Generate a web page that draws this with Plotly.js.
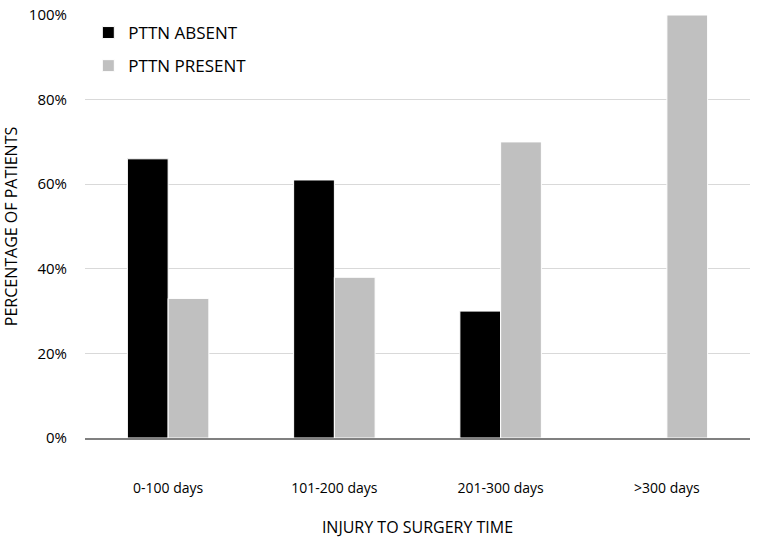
<!DOCTYPE html>
<html>
<head>
<meta charset="utf-8">
<script src="https://cdn.plot.ly/plotly-3.0.1.min.js"></script>
<style>
  body { margin: 0; background: #fff; }
  #chart { width: 765px; height: 545px; }
</style>
</head>
<body>
<div id="chart"></div>
<script>
const categories = ['0-100 days', '101-200 days', '201-300 days', '>300 days'];
const absentPct = [66, 61, 30, 0];
const presentPct = [33, 38, 70, 100];
const yTicks = [0, 20, 40, 60, 80, 100];

const font = 'Open Sans, Liberation Sans, sans-serif';

const data = [
  {
    x: categories,
    y: absentPct,
    name: 'PTTN ABSENT',
    legendgroup: 'a',
    type: 'bar',
    marker: { color: '#000000', line: { color: '#ffffff', width: 1 } },
    hoverinfo: 'skip'
  },
  {
    x: categories,
    y: presentPct,
    name: 'PTTN PRESENT',
    legendgroup: 'b',
    type: 'bar',
    marker: { color: '#c0c0c0', line: { color: '#ffffff', width: 1 } },
    hoverinfo: 'skip'
  }
];

const layout = {
  width: 765,
  height: 545,
  barmode: 'group',
  bargap: 0.51,
  bargroupgap: 0,
  paper_bgcolor: '#ffffff',
  plot_bgcolor: '#ffffff',
  font: { family: font, size: 15, color: '#000000' },
  margin: { l: 85, r: 15, t: 15, b: 107 },
  showlegend: true,
  legend: {
    x: 0.005, y: 1.0, xanchor: 'left', yanchor: 'top',
    font: { family: font, size: 17, color: '#000' },
    bgcolor: 'rgba(0,0,0,0)',
    itemwidth: 30,
    traceorder: 'grouped',
    tracegroupgap: 8
  },
  xaxis: {
    type: 'category',
    showgrid: false,
    showline: true,
    linecolor: '#808080',
    linewidth: 2,
    ticks: 'outside',
    ticklen: 36,
    tickcolor: 'rgba(0,0,0,0)',
    tickfont: { family: font, size: 14 },
    title: { text: 'INJURY TO SURGERY TIME', font: { family: font, size: 16 }, standoff: 26 },
    fixedrange: true
  },
  yaxis: {
    range: [0, 100],
    tickvals: yTicks,
    ticktext: yTicks.map(v => v + '%'),
    showgrid: true,
    gridcolor: '#d9d9d9',
    gridwidth: 1,
    zeroline: false,
    showline: false,
    ticks: 'outside',
    ticklen: 14,
    tickcolor: 'rgba(0,0,0,0)',
    tickfont: { family: font, size: 15 },
    title: { text: 'PERCENTAGE OF PATIENTS', font: { family: font, size: 16 }, standoff: 10 },
    fixedrange: true
  }
};

Plotly.newPlot('chart', data, layout, { displayModeBar: false, staticPlot: true });
</script>
</body>
</html>
